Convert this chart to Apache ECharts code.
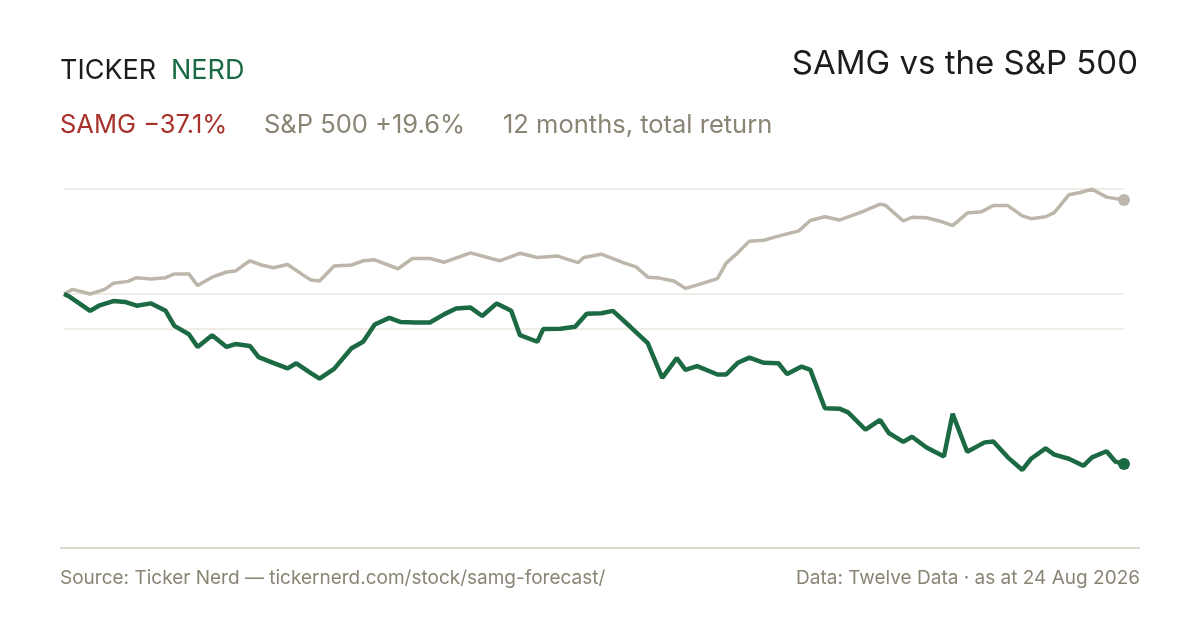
<!DOCTYPE html>
<html>
<head>
<meta charset="utf-8">
<script src="https://cdn.jsdelivr.net/npm/echarts@6/dist/echarts.min.js"></script>
<style>
html,body{margin:0;padding:0;background:#ffffff;}
#chart{width:1200px;height:630px;}
</style>
</head>
<body>
<div id="chart"></div>
<script>
// Day offsets within the 12-month window (0 = start, 365 = 24 Aug 2026)
var samgDays = [0,2,9,12,17,21,25,30,35,38,43,46,51,56,59,64,67,72,77,80,85,88,93,99,103,107,112,116,121,126,131,135,140,144,149,154,157,163,165,171,176,180,185,189,195,201,206,211,214,218,225,228,232,236,241,246,249,254,257,262,267,270,276,281,284,289,292,297,303,306,311,317,320,325,330,333,338,341,346,351,354,359,362,365];
// SAMG cumulative return, %
var samgValues = [0,-0.6,-3.6,-2.5,-1.5,-1.7,-2.5,-2.0,-3.6,-6.8,-8.6,-11.3,-8.8,-11.3,-10.7,-11.1,-13.5,-14.7,-15.9,-14.8,-16.9,-18.1,-16.0,-11.6,-10.2,-6.5,-5.1,-6.0,-6.1,-6.1,-4.3,-3.1,-2.9,-4.7,-2.0,-3.6,-8.8,-10.2,-7.5,-7.4,-7.0,-4.2,-4.1,-3.6,-7.0,-10.5,-17.9,-13.7,-16.2,-15.4,-17.2,-17.2,-14.7,-13.6,-14.7,-14.8,-17.1,-15.5,-16.2,-24.4,-24.5,-25.3,-29.0,-26.9,-29.7,-31.6,-30.5,-32.8,-34.7,-25.6,-33.7,-31.7,-31.5,-34.9,-37.6,-35.2,-33.0,-34.3,-35.2,-36.7,-34.9,-33.6,-35.8,-36.3];

var spxDays = [0,3,9,14,17,22,25,30,35,38,43,46,51,56,59,64,68,72,77,82,85,88,93,99,103,107,115,120,126,131,140,150,157,163,170,177,179,185,193,197,201,205,210,214,219,225,228,232,236,241,245,253,257,262,267,275,281,283,289,292,297,302,306,311,316,320,325,330,333,338,341,346,350,354,359,365];
// S&P 500 cumulative return, %
var spxValues = [0,1.0,0.0,1.0,2.3,2.7,3.5,3.2,3.5,4.3,4.3,1.8,3.6,4.7,4.9,7.1,6.2,5.6,6.3,4.2,3.0,2.8,6.0,6.2,7.1,7.3,5.4,7.6,7.6,6.8,8.8,7.1,8.7,7.8,8.1,6.7,7.8,8.5,6.6,5.8,3.6,3.4,2.8,1.2,2.1,3.3,6.6,8.8,11.3,11.5,12.2,13.5,15.7,16.5,15.8,17.6,19.2,18.9,15.6,16.4,16.3,15.5,14.6,17.3,17.6,18.9,18.9,16.7,16.1,16.5,17.4,21.2,21.7,22.4,20.7,20.1];

// Reference gridline levels, %
var gridLevels = [22.44, 0, -7.5];

var titleText = 'SAMG vs the S&P 500';
var samgLabel = 'SAMG \u221237.1%';
var spxLabel = 'S&P 500 +19.6%';
var periodLabel = '12 months, total return';
var sourceText = 'Source: Ticker Nerd \u2014 tickernerd.com/stock/samg-forecast/';
var dataText = 'Data: Twelve Data \u00b7 as at 24 Aug 2026';

function pairs(xs, ys){ return xs.map(function(x,i){ return [x, ys[i]]; }); }

var GREEN = '#1b6a44';
var GREY_LINE = '#bdb6aa';
var GREY_TEXT = '#8a8474';
var FONT = 'Inter, "Noto Sans", sans-serif';

var chart = echarts.init(document.getElementById('chart'), null, {renderer:'canvas'});
var spxData = pairs(spxDays, spxValues);
var samgData = pairs(samgDays, samgValues);

chart.setOption({
  animation: false,
  backgroundColor: '#ffffff',
  grid: {left: 64, right: 76, top: 189, bottom: 82},
  xAxis: {type: 'value', min: 0, max: 365, show: false, splitLine: {show: false}},
  yAxis: {type: 'value', min: -54.27, max: 22.44, show: false, splitLine: {show: false}},
  series: [
    {
      type: 'line', name: 'S&P 500', data: spxData, symbol: 'none',
      lineStyle: {color: GREY_LINE, width: 3.5}, z: 3,
      markLine: {
        silent: true, symbol: 'none', label: {show: false},
        lineStyle: {color: '#ebe7df', width: 1.5, type: 'solid'},
        data: gridLevels.map(function(v){ return {yAxis: v}; }),
        z: 1
      }
    },
    {
      type: 'scatter', data: [spxData[spxData.length-1]], symbolSize: 12,
      itemStyle: {color: GREY_LINE, opacity: 1}, z: 4
    },
    {
      type: 'line', name: 'SAMG', data: samgData, symbol: 'none',
      lineStyle: {color: GREEN, width: 4.5}, z: 5
    },
    {
      type: 'scatter', data: [samgData[samgData.length-1]], symbolSize: 12,
      itemStyle: {color: GREEN, opacity: 1}, z: 6
    }
  ],
  graphic: [
    {type:'text', left: 60, top: 57, style:{text:'TICKER', font:'400 27px ' + FONT, fill:'#1c1c1c'}},
    {type:'text', left: 171, top: 57, style:{text:'NERD', font:'400 27px ' + FONT, fill:GREEN}},
    {type:'text', right: 62, top: 48, style:{text:titleText, font:'400 33px ' + FONT, fill:'#1c1c1c'}},
    {type:'text', left: 60, top: 112, style:{text:samgLabel, font:'400 25.5px ' + FONT, fill:'#a8322a'}},
    {type:'text', left: 264, top: 112, style:{text:spxLabel, font:'400 25.5px ' + FONT, fill:GREY_TEXT}},
    {type:'text', left: 503, top: 112, style:{text:periodLabel, font:'400 25.5px ' + FONT, fill:GREY_TEXT}},
    {type:'line', shape:{x1:60, y1:548, x2:1140, y2:548}, style:{stroke:'#ddd8cc', lineWidth:2}},
    {type:'text', left: 60, top: 569, style:{text:sourceText, font:'400 19px ' + FONT, fill:GREY_TEXT}},
    {type:'text', right: 60, top: 569, style:{text:dataText, font:'400 19px ' + FONT, fill:GREY_TEXT}}
  ]
});
</script>
</body>
</html>
